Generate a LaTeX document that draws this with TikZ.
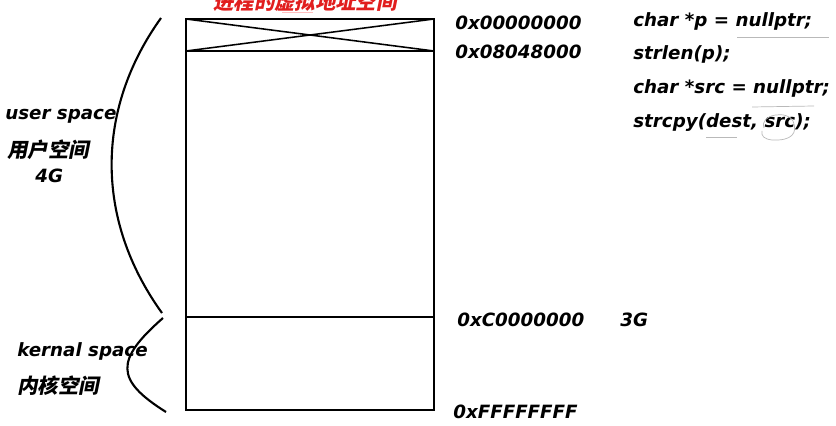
\documentclass[tikz,border=0pt]{standalone}
\usepackage{fontspec}
\setmainfont{DejaVu Sans}
\newfontfamily\cjk[FakeSlant=0.2,BoldFeatures={FakeSlant=0.2}]{Noto Sans CJK SC}
\usetikzlibrary{positioning}
\tikzset{
  txt/.style={font=\fontsize{13}{15}\selectfont\bfseries\itshape, inner sep=0pt, anchor=base west},
  zh/.style={font=\fontsize{14.5}{17}\selectfont\cjk\bfseries, inner sep=0pt, anchor=west},
  note/.style={gray!55, line width=0.5pt}
}
\begin{document}
\begin{tikzpicture}[x=0.025cm,y=-0.025cm]
  \useasboundingbox (0,0) rectangle (836,426);
  \def\mybox{(186,19) rectangle (434,410)}
  % address space
  \draw [line width=1.7pt]\mybox ;
  \draw [line width=1.7pt] (186,51) -- (434,51) (186,317) -- (434,317);
  \draw [line width=1.1pt] (186,19) -- (434,51) (186,51) -- (434,19);
  % braces
  \draw [line width=1.5pt] (161,18) .. controls (95,110) and (95,220) .. (162,313);
  \draw [line width=1.5pt] (163,318) .. controls (115,360) and (115,380) .. (166,412);
  % title
  \node [zh, anchor=base, text={rgb,255:red,225;green,30;blue,30}] (title) at (305,9.5) {进程的虚拟地址空间};
  \draw [red!25, line width=0.6pt] (282,12) -- (313,12);
  % labels
  \node [txt] (user) at (5,120) {user space};
  \node [zh] (userzh) at (7,150) {用户空间};
  \node [txt] (usersize) at (35,183) {4G};
  \node [txt] (kernel) at (17,356) {kernal space};
  \node [zh] (kernelzh) at (17,386) {内核空间};
  % addresses
  \node [txt] (a0) at (455,30) {0x00000000};
  \node [txt] (a1) at (455,59) {0x08048000};
  \node [txt] (a2) at (457,326) {0xC0000000};
  \node [txt] (a3) at (620,326) {3G};
  \node [txt] (a4) at (453,418) {0xFFFFFFFF};
  % code
  \node [txt] (c1) at (633,27) {char *p = nullptr;};
  \node [txt] (c2) at (633,60) {strlen(p);};
  \node [txt] (c3) at (633,94) {char *src = nullptr;};
  \node [txt] (c4) at (633,128) {strcpy(dest, src);};
  \draw [note] (737,37) -- (829,37);
  \draw [note] (752,107) -- (814,106);
  \draw [note] (706,137) -- (737,137);
  \draw [note] (764,128) .. controls (759,114) and (788,110) .. (793,121)
     .. controls (798,133) and (792,141) .. (772,140) .. controls (764,139) and (761,136) .. (762,131);
\end{tikzpicture}
\end{document}
